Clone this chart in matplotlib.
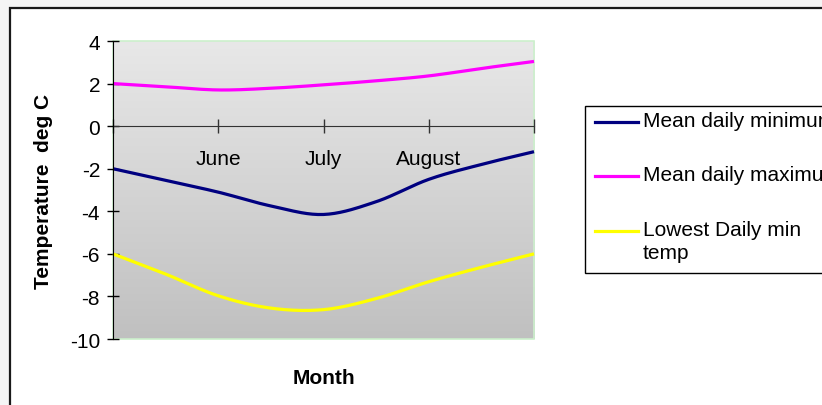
import numpy as np
import matplotlib
matplotlib.use("Agg")
import matplotlib.pyplot as plt
from matplotlib.patches import Rectangle
from matplotlib.lines import Line2D

# half-month positions: 0 = start of the window ... 4 = end
month_pos = [0, 0.5, 1, 1.5, 2, 2.5, 3, 3.5, 4]
tick_pos = [0, 1, 2, 3, 4]
tick_labels = ["", "June", "July", "August", ""]

mean_daily_min = [-2.0, -2.55, -3.1, -3.75, -4.15, -3.55, -2.5, -1.8, -1.2]
mean_daily_max = [2.0, 1.85, 1.7, 1.78, 1.94, 2.13, 2.36, 2.71, 3.04]
lowest_daily_min = [-6.0, -6.95, -7.97, -8.55, -8.62, -8.1, -7.31, -6.63, -6.0]

series = [
    ("Mean daily minimum", mean_daily_min, "#000080"),
    ("Mean daily maximum", mean_daily_max, "#FF00FF"),
    ("Lowest Daily min\ntemp", lowest_daily_min, "#FFFF00"),
]

W, H = 822, 406
plt.rcParams["font.family"] = ["Liberation Sans", "DejaVu Sans"]
plt.rcParams["axes.unicode_minus"] = False


def smooth(x, y, n=20):
    """Bezier smoothing, close to the spreadsheet 'smoothed line'."""
    x = np.asarray(x, float)
    y = np.asarray(y, float)
    px = np.concatenate([[x[0]], x, [x[-1]]])
    py = np.concatenate([[y[0]], y, [y[-1]]])
    xs, ys = [], []
    for i in range(1, len(px) - 2):
        p0, p1, p2, p3 = (np.array([px[k], py[k]]) for k in (i - 1, i, i + 1, i + 2))
        c1 = p1 + (p2 - p0) / 6
        c2 = p2 - (p3 - p1) / 6
        t = np.linspace(0, 1, n)[:, None]
        pts = ((1 - t) ** 3) * p1 + 3 * ((1 - t) ** 2) * t * c1 + 3 * (1 - t) * t ** 2 * c2 + t ** 3 * p2
        xs.extend(pts[:, 0])
        ys.extend(pts[:, 1])
    return xs, ys


fig = plt.figure(figsize=(W / 100, H / 100), dpi=100, facecolor="#f5f5f5")

# chart frame (cut off at the right / bottom like the original)
fig.add_artist(Rectangle((10 / W, -0.2), 1.0, 1 - 9 / H + 0.2, transform=fig.transFigure,
                         facecolor="white", edgecolor="#1a1a1a", linewidth=1.6, zorder=-10))

ax = fig.add_axes([113 / W, 1 - 340 / H, (534 - 113) / W, (340 - 42) / H])
ax.set_zorder(2)
ax.set_xlim(0, 4)
ax.set_ylim(-10, 4)
ax.patch.set_alpha(0)

# grey gradient background of the plot area
grad = np.linspace(0, 1, 256).reshape(-1, 1)
ax.imshow(grad, extent=(0, 4, -10, 4), aspect="auto", origin="upper",
          cmap=matplotlib.colors.LinearSegmentedColormap.from_list("g", ["#e8e8e8", "#c0c0c0"]),
          zorder=0)
ax.add_patch(Rectangle((0, 0), 1, 1, transform=ax.transAxes, fill=False,
                       edgecolor="#ccf0cc", linewidth=1.2, zorder=1, clip_on=False))

for label, values, color in series:
    xs, ys = smooth(month_pos, values)
    ax.plot(xs, ys, color=color, linewidth=2.3, solid_capstyle="butt", zorder=3, clip_on=False)

for side in ("top", "right"):
    ax.spines[side].set_visible(False)
ax.spines["bottom"].set_position(("data", 0))
ax.spines["bottom"].set_color("#333333")
ax.spines["left"].set_color("black")
ax.spines["left"].set_zorder(4)

ax.set_yticks(range(-10, 5, 2))
ax.set_xticks(tick_pos)
ax.set_xticklabels(tick_labels)
ax.tick_params(axis="y", direction="inout", length=8.6, width=1, pad=5, labelsize=15)
ax.tick_params(axis="x", direction="inout", length=9.4, width=1, color="#333333",
               pad=11.5, labelsize=15)

ax.set_ylabel("Temperature  deg C", fontsize=15, fontweight="bold", va="center")
ax.yaxis.set_label_coords(-0.166, 0.5)
ax.set_xlabel("Month", fontsize=15, fontweight="bold", va="center")
ax.xaxis.set_label_coords(0.5, -0.128)


# legend, drawn in pixel positions like the spreadsheet legend box
def px(x, y):
    return x / W, 1 - y / H


lx0, ly0, ly1 = 585, 107, 274
fig.add_artist(Rectangle(px(lx0, ly1), (860 - lx0) / W, (ly1 - ly0) / H,
                         transform=fig.transFigure, facecolor="white",
                         edgecolor="black", linewidth=1.0))
for (label, values, color), yy in zip(series, [123, 177, 232]):
    fig.add_artist(Line2D([595 / W, 638 / W], [1 - yy / H] * 2, transform=fig.transFigure,
                          color=color, linewidth=2.3))
    fig.text(643 / W, 1 - (yy - 11) / H, label, fontsize=15, va="top", ha="left",
             linespacing=1.3)

fig.savefig("out.png", dpi=100, facecolor=fig.get_facecolor())
